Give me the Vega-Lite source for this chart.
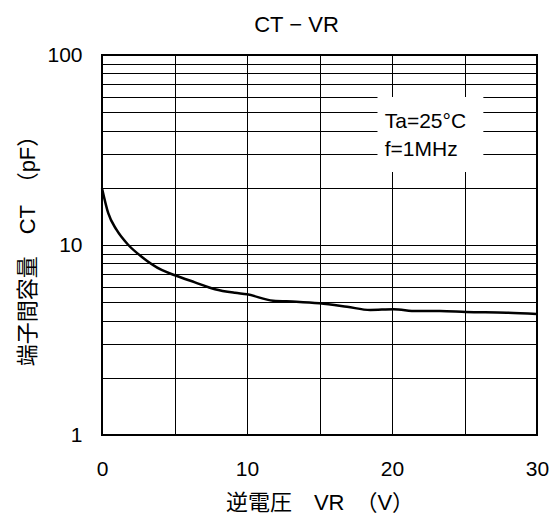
{
  "$schema": "https://vega.github.io/schema/vega-lite/v6.json",
  "width": 435,
  "height": 380,
  "autosize": {"type": "none"},
  "padding": {"left": 102, "top": 55, "right": 17, "bottom": 85},
  "background": "white",
  "config": {
    "font": "Liberation Sans, Noto Sans CJK JP",
    "view": {"stroke": "#000", "strokeWidth": 2},
    "axis": {
      "domain": false,
      "ticks": false,
      "grid": true,
      "gridColor": "#000",
      "gridWidth": 1,
      "gridOpacity": 1,
      "labelFont": "Liberation Sans",
      "labelFontSize": 21,
      "labelColor": "#000",
      "titleFont": "Liberation Sans, Noto Sans CJK JP",
      "titleFontSize": 22,
      "titleFontWeight": "normal",
      "titleColor": "#000"
    }
  },
  "title": {
    "text": "CT − VR",
    "font": "Liberation Sans",
    "fontSize": 22,
    "fontWeight": "normal",
    "color": "#000",
    "anchor": "middle",
    "dx": -23,
    "offset": 7
  },
  "datasets": {
    "curve": [
      {"vr": 0, "ct": 19.9},
      {"vr": 0.43, "ct": 14.7},
      {"vr": 1.01, "ct": 12.0},
      {"vr": 1.82, "ct": 10.0},
      {"vr": 2.73, "ct": 8.68},
      {"vr": 4.11, "ct": 7.39},
      {"vr": 5.03, "ct": 6.93},
      {"vr": 6.41, "ct": 6.36},
      {"vr": 7.79, "ct": 5.85},
      {"vr": 9.17, "ct": 5.6},
      {"vr": 10.0, "ct": 5.5},
      {"vr": 11.8, "ct": 5.09},
      {"vr": 13.4, "ct": 5.03},
      {"vr": 15.0, "ct": 4.93},
      {"vr": 16.9, "ct": 4.73},
      {"vr": 18.5, "ct": 4.55},
      {"vr": 20.1, "ct": 4.59},
      {"vr": 21.7, "ct": 4.49},
      {"vr": 23.3, "ct": 4.49},
      {"vr": 25.1, "ct": 4.44},
      {"vr": 27.9, "ct": 4.4},
      {"vr": 30, "ct": 4.33}
    ],
    "box": [{"x1": 19.0, "x2": 26.3, "y1": 24.2, "y2": 60.1}],
    "notes": [
      {"vr": 19.5, "ct": 44.4, "label": "Ta=25°C"},
      {"vr": 19.5, "ct": 31.6, "label": "f=1MHz"}
    ]
  },
  "layer": [
    {
      "data": {"name": "box"},
      "mark": {"type": "rect", "fill": "white", "stroke": null},
      "encoding": {
        "x": {
          "field": "x1", "type": "quantitative",
          "scale": {"domain": [0, 30], "nice": false},
          "axis": {
            "values": [0, 5, 10, 15, 20, 25, 30],
            "labelExpr": "datum.value % 10 == 0 ? datum.label : ''",
            "labelFlush": false,
            "labelPadding": 34,
            "labelBaseline": "middle",
            "title": "逆電圧　VR　（V）",
            "titleY": 67,
            "titleBaseline": "middle"
          }
        },
        "x2": {"field": "x2"},
        "y": {
          "field": "y1", "type": "quantitative",
          "scale": {"type": "log", "domain": [1, 100], "nice": false},
          "axis": {
            "values": [1, 2, 3, 4, 5, 6, 7, 8, 9, 10, 20, 30, 40, 50, 60, 70, 80, 90, 100],
            "labelExpr": "(datum.value == 1 || datum.value == 10 || datum.value == 100) ? format(datum.value, 'd') : ''",
            "labelPadding": 20,
            "labelBaseline": "middle",
            "title": "端子間容量　CT　（pF）",
            "titleX": -75,
            "titleY": 190,
            "titleAngle": 270,
            "titleAlign": "center",
            "titleBaseline": "middle"
          }
        },
        "y2": {"field": "y2"}
      }
    },
    {
      "data": {"name": "curve"},
      "mark": {"type": "line", "color": "#000", "strokeWidth": 2.5, "interpolate": "monotone"},
      "encoding": {
        "x": {"field": "vr", "type": "quantitative"},
        "y": {"field": "ct", "type": "quantitative"}
      }
    },
    {
      "data": {"name": "notes"},
      "mark": {"type": "text", "align": "left", "baseline": "middle", "fontSize": 21, "font": "Liberation Sans", "color": "#000"},
      "encoding": {
        "x": {"field": "vr", "type": "quantitative"},
        "y": {"field": "ct", "type": "quantitative"},
        "text": {"field": "label"}
      }
    }
  ]
}
